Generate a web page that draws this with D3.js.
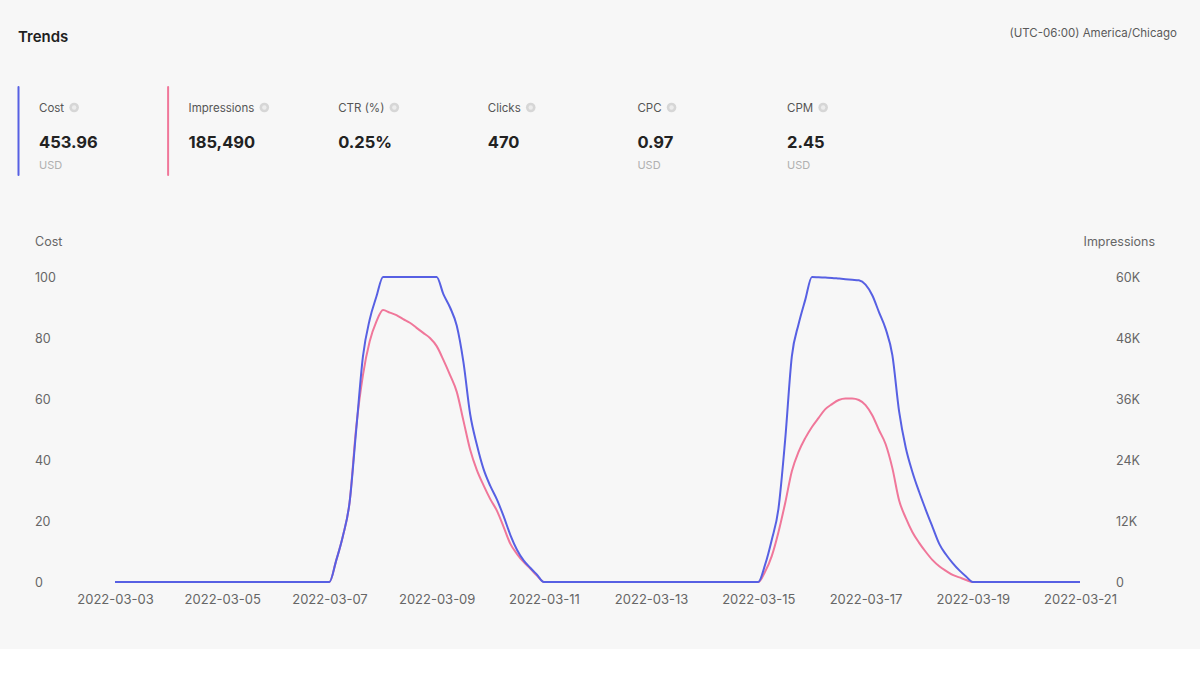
<!DOCTYPE html>
<html>
<head>
<meta charset="utf-8">
<script src="https://cdn.jsdelivr.net/npm/d3@7/dist/d3.min.js"></script>
<style>
  html, body { margin: 0; padding: 0; background: #ffffff; }
  svg { display: block; font-family: Inter, "Open Sans", sans-serif; }
</style>
</head>
<body>
<svg id="chart" width="1200" height="674"></svg>
<script>
// ---- data ----
const title = "Trends";
const timezone = "(UTC-06:00) America/Chicago";

const metricNames  = ["Cost", "Impressions", "CTR (%)", "Clicks", "CPC", "CPM"];
const metricValues = ["453.96", "185,490", "0.25%", "470", "0.97", "2.45"];
const metricUnits  = ["USD", "", "", "", "USD", "USD"];

const xTickLabels = ["2022-03-03","2022-03-05","2022-03-07","2022-03-09","2022-03-11",
                     "2022-03-13","2022-03-15","2022-03-17","2022-03-19","2022-03-21"];
const costTicks = [0, 20, 40, 60, 80, 100];
const imprTicks = [0, 12000, 24000, 36000, 48000, 60000];

const times = [
  "2022-03-03 00:00",
  "2022-03-07 00:00","2022-03-07 03:00","2022-03-07 06:00","2022-03-07 09:00","2022-03-07 12:00","2022-03-07 15:00","2022-03-07 18:00","2022-03-07 21:00",
  "2022-03-08 00:00","2022-03-08 03:00","2022-03-08 06:00","2022-03-08 09:00","2022-03-08 12:00","2022-03-08 15:00","2022-03-08 18:00","2022-03-08 21:00",
  "2022-03-09 00:00","2022-03-09 03:00","2022-03-09 06:00","2022-03-09 09:00","2022-03-09 12:00","2022-03-09 15:00","2022-03-09 18:00","2022-03-09 21:00",
  "2022-03-10 00:00","2022-03-10 03:00","2022-03-10 06:00","2022-03-10 09:00","2022-03-10 12:00","2022-03-10 15:00","2022-03-10 18:00","2022-03-10 21:00",
  "2022-03-11 00:00",
  "2022-03-15 00:00","2022-03-15 03:00","2022-03-15 06:00","2022-03-15 09:00","2022-03-15 12:00","2022-03-15 15:00","2022-03-15 18:00","2022-03-15 21:00",
  "2022-03-16 00:00","2022-03-16 03:00","2022-03-16 06:00","2022-03-16 09:00","2022-03-16 12:00","2022-03-16 15:00","2022-03-16 18:00","2022-03-16 21:00",
  "2022-03-17 00:00","2022-03-17 03:00","2022-03-17 06:00","2022-03-17 09:00","2022-03-17 12:00","2022-03-17 15:00","2022-03-17 18:00","2022-03-17 21:00",
  "2022-03-18 00:00","2022-03-18 03:00","2022-03-18 06:00","2022-03-18 09:00","2022-03-18 12:00","2022-03-18 15:00","2022-03-18 18:00","2022-03-18 21:00",
  "2022-03-19 00:00",
  "2022-03-21 00:00"
];
const cost = [
  0,
  0, 7, 15, 26, 50, 74, 86, 93.5,
  100, 100, 100, 100, 100, 100, 100, 100,
  100, 94.4, 90, 84, 72, 55, 45, 37,
  31.5, 27, 21.5, 15.4, 10.5, 7, 4.6, 2.3,
  0,
  0, 5.6, 13.8, 24, 46.5, 74, 84.5, 92.5,
  100, 99.9, 99.8, 99.7, 99.5, 99.3, 99.1, 98.9,
  97.5, 94, 88.5, 83, 74.4, 56, 44, 36,
  29.5, 23.6, 18, 12.5, 9, 6.2, 3.8, 1.8,
  0,
  0
];
const impressions = [
  0,
  0, 4200, 9000, 15600, 30500, 40700, 47300, 51200,
  53500, 53000, 52500, 51700, 51000, 50000, 49000, 48000,
  46400, 43700, 40700, 37400, 31700, 26000, 22000, 19000,
  16300, 14000, 10800, 7500, 5500, 3900, 2600, 1200,
  0,
  0, 2000, 5100, 9800, 15500, 21800, 25600, 28300,
  30500, 32300, 34000, 35000, 35800, 36100, 36100, 35800,
  34800, 32800, 29900, 27100, 22400, 16100, 12600, 9800,
  7700, 5900, 4300, 3100, 2200, 1400, 900, 400,
  0,
  0
];

// ---- drawing ----
const W = 1200, H = 674;
const svg = d3.select("#chart");
const blue = "#5760e3", pink = "#f0779a";

svg.append("rect").attr("x", 0).attr("y", 0).attr("width", W).attr("height", 649).attr("fill", "#f7f7f7");

svg.append("text").attr("x", 18).attr("y", 41.5).text(title)
  .attr("font-size", 15).attr("font-weight", 600).attr("fill", "#1f1f1f");
svg.append("text").attr("x", 1177).attr("y", 36.5).attr("text-anchor", "end").text(timezone)
  .attr("font-size", 11.5).attr("fill", "#5a5a5a");

// metric cards
const cardX = d3.scalePoint().domain(metricNames).range([39, 787]);
const cardColors = [blue, pink];
metricNames.forEach((name, i) => {
  const x = cardX(name);
  const g = svg.append("g");
  if (i < 2) {
    g.append("rect").attr("x", x - 21.5).attr("y", 86).attr("width", 2).attr("height", 90)
      .attr("rx", 1).attr("fill", cardColors[i]);
  }
  const lbl = g.append("text").attr("x", x).attr("y", 112).text(name)
    .attr("font-size", 11.5).attr("fill", "#555");
  const lw = lbl.node().getComputedTextLength();
  g.append("circle").attr("cx", x + lw + 10).attr("cy", 107.5).attr("r", 4.8)
    .attr("fill", "#d6d6d6");
  g.append("circle").attr("cx", x + lw + 10).attr("cy", 107.5).attr("r", 2.2)
    .attr("fill", "#ececec");
  g.append("text").attr("x", x).attr("y", 148).text(metricValues[i])
    .attr("font-size", 16.5).attr("font-weight", 700).attr("fill", "#222");
  if (metricUnits[i]) {
    g.append("text").attr("x", x).attr("y", 169).text(metricUnits[i])
      .attr("font-size", 11).attr("fill", "#b0b0b0");
  }
});

// scales
const parse = d3.timeParse("%Y-%m-%d %H:%M");
const parseDay = d3.timeParse("%Y-%m-%d");
const x = d3.scaleTime()
  .domain([parseDay(xTickLabels[0]), parseDay(xTickLabels[xTickLabels.length - 1])])
  .range([115, 1080]);
const yL = d3.scaleLinear().domain([0, 100]).range([582, 277]);
const yR = d3.scaleLinear().domain([0, 60000]).range([582, 277]);

const data = times.map((t, i) => ({ t: parse(t), c: cost[i], m: impressions[i] }));

// axes
const fmtK = v => v === 0 ? "0" : (v / 1000) + "K";
const axisColor = "#666";

const xAxis = d3.axisBottom(x).tickValues(xTickLabels.map(parseDay))
  .tickFormat(d3.timeFormat("%Y-%m-%d")).tickSize(0).tickPadding(0);
const gx = svg.append("g").attr("transform", "translate(0,603.5)").call(xAxis);
gx.select(".domain").remove();
gx.selectAll("text").attr("font-size", 13).attr("fill", axisColor).attr("dy", 0)
  .attr("font-family", "Inter, sans-serif");

const gl = svg.append("g").attr("transform", "translate(35,0)")
  .call(d3.axisRight(yL).tickValues(costTicks).tickSize(0).tickPadding(0));
gl.select(".domain").remove();
gl.selectAll("text").attr("font-size", 12.5).attr("fill", axisColor).attr("font-family", "Inter, sans-serif");

const gr = svg.append("g").attr("transform", "translate(1116,0)")
  .call(d3.axisRight(yR).tickValues(imprTicks).tickFormat(fmtK).tickSize(0).tickPadding(0));
gr.select(".domain").remove();
gr.selectAll("text").attr("font-size", 12.5).attr("fill", axisColor).attr("font-family", "Inter, sans-serif");

svg.append("text").attr("x", 35).attr("y", 246).text("Cost")
  .attr("font-size", 12.5).attr("fill", axisColor);
svg.append("text").attr("x", 1155).attr("y", 246).attr("text-anchor", "end").text("Impressions")
  .attr("font-size", 12.5).attr("fill", axisColor);

// lines
const lineImp = d3.line().x(d => x(d.t)).y(d => yR(d.m)).curve(d3.curveMonotoneX);
const lineCost = d3.line().x(d => x(d.t)).y(d => yL(d.c)).curve(d3.curveMonotoneX);

svg.append("path").datum(data).attr("d", lineImp)
  .attr("fill", "none").attr("stroke", pink).attr("stroke-width", 2).attr("stroke-linejoin", "round");
svg.append("path").datum(data).attr("d", lineCost)
  .attr("fill", "none").attr("stroke", blue).attr("stroke-width", 2).attr("stroke-linejoin", "round");
</script>
</body>
</html>
